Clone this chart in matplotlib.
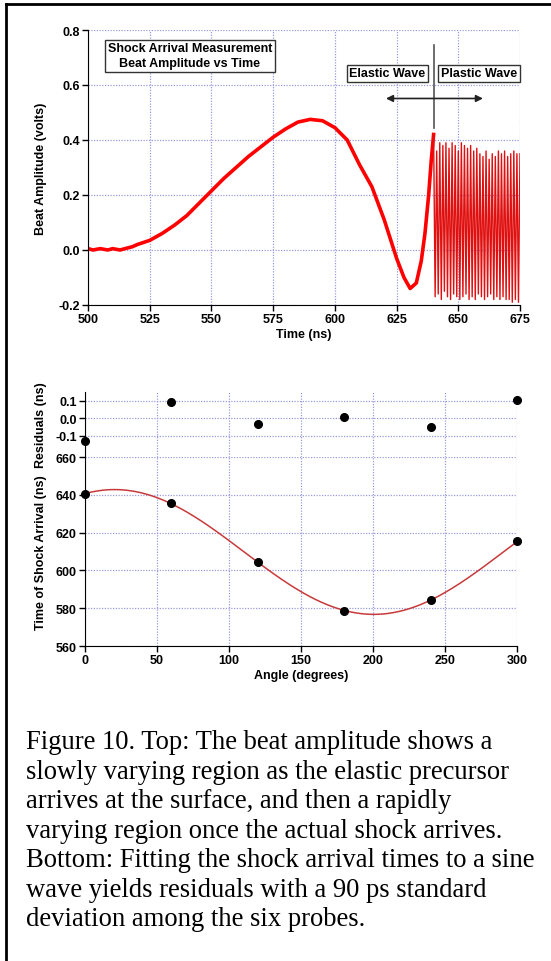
import numpy as np
import matplotlib.pyplot as plt
from matplotlib.lines import Line2D

plt.rcParams['font.family'] = ['Liberation Sans', 'DejaVu Sans']
plt.rcParams['axes.unicode_minus'] = False

# --- top panel: beat amplitude vs time ---
elastic_t = [500, 502, 505, 508, 510, 513, 515, 518, 520, 525, 530, 535, 540, 545, 550,
             555, 560, 565, 570, 575, 580, 585, 590, 595, 600, 605, 610, 615,
             620, 625, 628, 630.5, 633, 635, 636.5, 638, 639, 640]
elastic_v = [0.005, 0.0, 0.005, 0.0, 0.005, 0.0, 0.005, 0.012, 0.02, 0.035, 0.06, 0.09, 0.125,
             0.17, 0.215, 0.26, 0.30, 0.34, 0.375, 0.41, 0.44, 0.465, 0.475, 0.47,
             0.445, 0.40, 0.31, 0.23, 0.11, -0.03, -0.10, -0.14, -0.12, -0.04, 0.06,
             0.20, 0.32, 0.42]

plastic_peaks = [0.36, 0.39, 0.38, 0.39, 0.37, 0.39, 0.38, 0.36, 0.39, 0.38, 0.37, 0.38,
                 0.36, 0.37, 0.35, 0.34, 0.36, 0.33, 0.35, 0.34, 0.36, 0.35, 0.36, 0.34,
                 0.35, 0.36, 0.35, 0.35]
plastic_troughs = [-0.17, -0.16, -0.18, -0.15, -0.17, -0.18, -0.16, -0.17, -0.18, -0.17,
                   -0.16, -0.18, -0.17, -0.18, -0.16, -0.17, -0.18, -0.17, -0.16, -0.18,
                   -0.17, -0.18, -0.17, -0.18, -0.18, -0.19, -0.18, -0.19]

# --- bottom panel: shock arrival vs probe angle ---
angles = [0, 60, 120, 180, 240, 300]
arrival = [640.3, 635.5, 604.3, 578.7, 584.3, 615.4]
residuals = [-0.13, 0.092, -0.033, 0.008, -0.047, 0.106]

caption = ("Figure 10. Top: The beat amplitude shows a\n"
           "slowly varying region as the elastic precursor\n"
           "arrives at the surface, and then a rapidly\n"
           "varying region once the actual shock arrives.\n"
           "Bottom: Fitting the shock arrival times to a sine\n"
           "wave yields residuals with a 90 ps standard\n"
           "deviation among the six probes.")

grid_kw = dict(color='#9a9ae0', linestyle=(0, (1, 1.2)), linewidth=0.9)
fs = 9


def style_axis(ax, bottom=True):
    for s in ['top', 'right']:
        ax.spines[s].set_visible(False)
    if not bottom:
        ax.spines['bottom'].set_visible(False)
    ax.grid(True, **grid_kw)
    ax.set_axisbelow(True)
    ax.tick_params(direction='out', length=4, width=1, labelsize=fs, pad=2)
    for lab in ax.get_xticklabels() + ax.get_yticklabels():
        lab.set_fontweight('bold')


fig = plt.figure(figsize=(5.51, 9.62), dpi=100)

# outer frame (left and top edges)
fig.add_artist(Line2D([6 / 551, 6 / 551], [0, 1 - 5 / 962], color='black', lw=2))
fig.add_artist(Line2D([6 / 551, 1], [1 - 5 / 962, 1 - 5 / 962], color='black', lw=2))

# top panel
ax1 = fig.add_axes([88 / 551, 1 - 306 / 962, 432 / 551, 275 / 962])
ax1.plot(elastic_t, elastic_v, color='#ff0000', lw=2.6, solid_joinstyle='round')
n = len(plastic_peaks)
tt = np.linspace(640, 675, 2 * n + 1)
osc = [elastic_v[-1]]
for tr, pk in zip(plastic_troughs, plastic_peaks):
    osc += [tr, pk]
ax1.plot(tt, osc, color='#e01010', lw=1.0)
ax1.set_xlim(500, 675)
ax1.set_ylim(-0.2, 0.8)
ax1.set_xticks(np.arange(500, 676, 25))
ax1.set_yticks([-0.2, 0.0, 0.2, 0.4, 0.6, 0.8])
ax1.set_yticklabels(['-0.2', '0.0', '0.2', '0.4', '0.6', '0.8'])
style_axis(ax1)
ax1.set_xlabel('Time (ns)', fontsize=fs, fontweight='bold', labelpad=2)
ax1.set_ylabel('Beat Amplitude (volts)', fontsize=fs, fontweight='bold', labelpad=8)

box = dict(boxstyle='square,pad=0.2', fc='white', ec='#333333', lw=1)
ax1.text(541.3, 0.707, 'Shock Arrival Measurement\nBeat Amplitude vs Time', ha='center',
         va='center', fontsize=fs, fontweight='bold', bbox=box, linespacing=1.35)
ax1.text(621.3, 0.642, 'Elastic Wave', ha='center', va='center', fontsize=fs,
         fontweight='bold', bbox=box)
ax1.text(658.4, 0.642, 'Plastic Wave', ha='center', va='center', fontsize=fs,
         fontweight='bold', bbox=box)
ax1.plot([640.1, 640.1], [0.445, 0.745], color='#555555', lw=1.2)
ax1.annotate('', xy=(620.7, 0.551), xytext=(660, 0.551),
             arrowprops=dict(arrowstyle='<|-|>', color='#222222', lw=1.2,
                             mutation_scale=10, shrinkA=0, shrinkB=0))

# bottom panel: residuals
ax2 = fig.add_axes([85 / 551, 1 - 458 / 962, 432 / 551, 65 / 962])
ax2.plot(angles, residuals, 'o', color='black', ms=5.5, clip_on=False)
ax2.set_xlim(0, 300)
ax2.set_ylim(-0.22, 0.15)
ax2.set_xticks(np.arange(0, 301, 50))
ax2.set_yticks([-0.1, 0.0, 0.1])
ax2.set_yticklabels(['-0.1', '0.0', '0.1'])
style_axis(ax2, bottom=False)
ax2.tick_params(axis='x', length=0, labelbottom=False)
ax2.set_ylabel('Residuals (ns)', fontsize=fs, fontweight='bold')

# bottom panel: arrival times with sine fit
ax3 = fig.add_axes([85 / 551, 1 - 647 / 962, 432 / 551, 189 / 962])
th = np.radians(angles)
A = np.column_stack([np.ones(len(th)), np.cos(th), np.sin(th)])
coef = np.linalg.lstsq(A, np.array(arrival), rcond=None)[0]
ang = np.linspace(0, 300, 301)
fit = coef[0] + coef[1] * np.cos(np.radians(ang)) + coef[2] * np.sin(np.radians(ang))
ax3.plot(ang, fit, color='#c83a3a', lw=1.1)
ax3.plot(angles, arrival, 'o', color='black', ms=5.5, clip_on=False)
ax3.set_xlim(0, 300)
ax3.set_ylim(560, 660)
ax3.set_xticks(np.arange(0, 301, 50))
ax3.set_yticks(np.arange(560, 661, 20))
style_axis(ax3)
ax3.set_xlabel('Angle (degrees)', fontsize=fs, fontweight='bold', labelpad=2)
ax3.set_ylabel('Time of Shock Arrival (ns)', fontsize=fs, fontweight='bold')
ax2.yaxis.set_label_coords(-0.088, 0.5)
ax3.yaxis.set_label_coords(-0.088, 0.5)

# caption
fig.text(26 / 551, 1 - 730 / 962, caption, ha='left', va='top', fontsize=19.2,
         family='Liberation Serif', linespacing=1.24)

fig.savefig('out.png', dpi=100)
